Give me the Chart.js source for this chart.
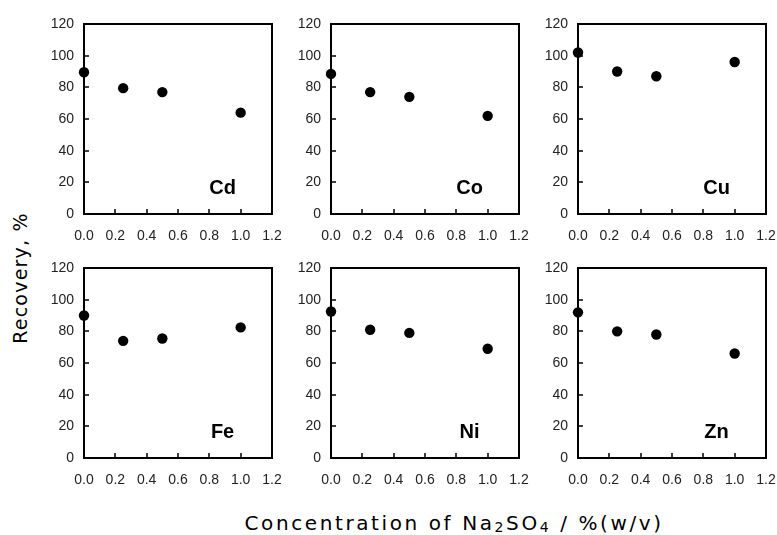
<!DOCTYPE html>
<html>
<head>
<meta charset="utf-8">
<script src="https://cdn.jsdelivr.net/npm/chart.js@4.4.1/dist/chart.umd.min.js"></script>
<style>
  body { margin: 0; background: #fff; }
  #wrap { position: relative; width: 777px; height: 535px; overflow: hidden; }
  canvas { position: absolute; }
  .title { position: absolute; font-family: "DejaVu Sans", Verdana, sans-serif; color: #000; white-space: nowrap; }
  #xtitle { font-size: 20px; letter-spacing: 2.6px; }
  #ytitle { font-size: 19px; letter-spacing: 1.2px; }
  .title sub { font-size: 14px; vertical-align: -2px; }
</style>
</head>
<body>
<div id="wrap">
  <div class="title" id="xtitle">Concentration of Na<sub>2</sub>SO<sub>4</sub> / %(w/v)</div>
  <div class="title" id="ytitle">Recovery, %</div>
</div>
<script>
// Na2SO4 concentration, %(w/v)
const concentration = [0, 0.25, 0.5, 1.0];
const metals = ['Cd', 'Co', 'Cu', 'Fe', 'Ni', 'Zn'];
// recovery %
const recCd = [89.5, 79.5, 77, 64];
const recCo = [88.5, 77, 74, 62];
const recCu = [102, 90, 87, 96];
const recFe = [90, 74, 75.5, 82.5];
const recNi = [92.5, 81, 79, 69];
const recZn = [92, 80, 78, 66];
const recovery = [recCd, recCo, recCu, recFe, recNi, recZn];

// plot area boxes (px)
const colLeft = [84, 331, 578];
const rowTop = [24, 268];
const plotW = 188, plotH = 190;
const padL = 60, padT = 12, padR = 14, padB = 36;

// frame, inward ticks and metal label
const framePlugin = {
  id: 'frame',
  beforeDatasetsDraw(chart, args, opts) {
    const ctx = chart.ctx, a = chart.chartArea;
    const sx = chart.scales.x, sy = chart.scales.y;
    ctx.save();
    ctx.strokeStyle = '#000';
    ctx.lineWidth = 2;
    ctx.strokeRect(a.left, a.top, a.right - a.left, a.bottom - a.top);
    ctx.lineWidth = 1.5;
    ctx.beginPath();
    sx.ticks.forEach(t => {
      let px = Math.round(sx.getPixelForValue(t.value));
      ctx.moveTo(px, a.bottom);
      ctx.lineTo(px, a.bottom - 5);
    });
    sy.ticks.forEach(t => {
      let py = Math.round(sy.getPixelForValue(t.value));
      ctx.moveTo(a.left, py);
      ctx.lineTo(a.left + 5, py);
    });
    ctx.stroke();
    ctx.fillStyle = '#000';
    ctx.font = 'bold 20px "Liberation Sans", Arial, sans-serif';
    ctx.textAlign = 'center';
    ctx.textBaseline = 'middle';
    ctx.fillText(opts.label, a.left + 0.737 * (a.right - a.left), a.bottom - 26);
    ctx.restore();
  }
};

const wrap = document.getElementById('wrap');

metals.forEach((m, i) => {
  let col = i % 3, row = Math.floor(i / 3);
  let cv = document.createElement('canvas');
  cv.width = plotW + padL + padR;
  cv.height = plotH + padT + padB;
  cv.style.left = (colLeft[col] - padL) + 'px';
  cv.style.top = (rowTop[row] - padT) + 'px';
  wrap.appendChild(cv);

  let pts = concentration.map((c, k) => ({ x: c, y: recovery[i][k] }));

  new Chart(cv, {
    type: 'scatter',
    data: {
      datasets: [{
        data: pts,
        backgroundColor: '#000',
        borderWidth: 0,
        pointRadius: 5.2,
        pointHoverRadius: 5.2,
        clip: false
      }]
    },
    options: {
      responsive: false,
      animation: false,
      devicePixelRatio: 1,
      layout: { padding: { left: 0, top: padT, right: padR, bottom: 0 } },
      plugins: {
        legend: { display: false },
        tooltip: { enabled: false },
        frame: { label: m }
      },
      scales: {
        x: {
          type: 'linear',
          min: 0, max: 1.2,
          grid: { display: false, drawTicks: false },
          border: { display: false },
          ticks: {
            stepSize: 0.2,
            padding: 14,
            color: '#222',
            font: { family: '"Liberation Sans", Arial, sans-serif', size: 14 },
            callback: v => v.toFixed(1),
            maxRotation: 0
          },
          afterFit: s => { s.height = padB; s.paddingLeft = 0; s.paddingRight = 0; }
        },
        y: {
          min: 0, max: 120,
          grid: { display: false, drawTicks: false },
          border: { display: false },
          ticks: {
            stepSize: 20,
            padding: 10,
            color: '#222',
            font: { family: '"Liberation Sans", Arial, sans-serif', size: 14 }
          },
          afterFit: s => { s.width = padL; s.paddingTop = 0; s.paddingBottom = 0; }
        }
      }
    },
    plugins: [framePlugin]
  });
});

// axis titles
const xt = document.getElementById('xtitle');
xt.style.left = (454 - xt.offsetWidth / 2) + 'px';
xt.style.top = (523 - xt.offsetHeight / 2) + 'px';
const yt = document.getElementById('ytitle');
yt.style.left = (19 - yt.offsetWidth / 2) + 'px';
yt.style.top = (278 - yt.offsetHeight / 2) + 'px';
yt.style.transform = 'rotate(-90deg)';
</script>
</body>
</html>
